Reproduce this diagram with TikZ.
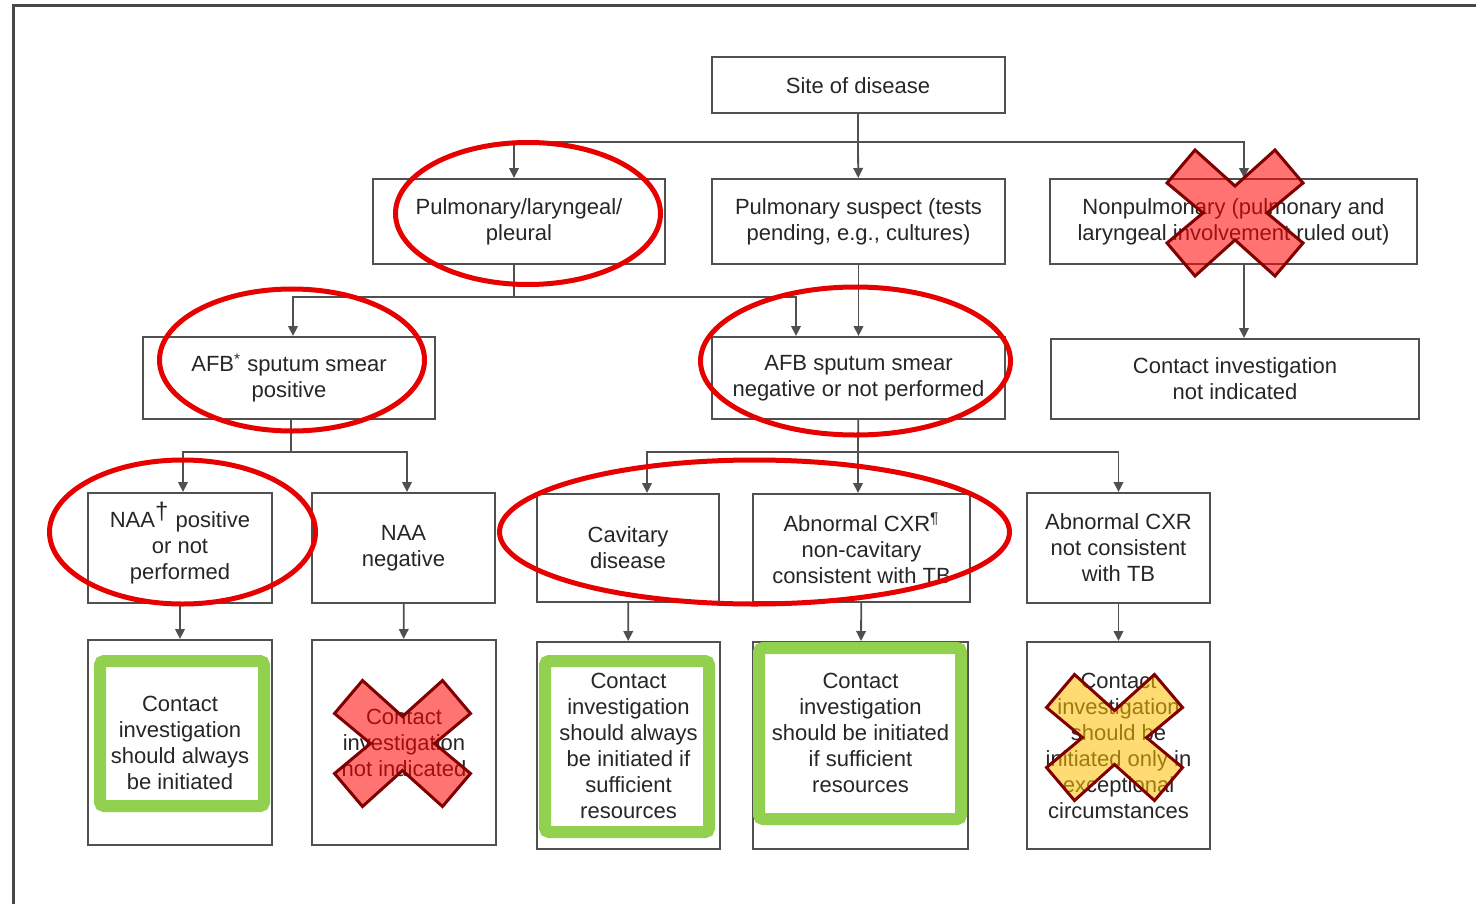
\documentclass[tikz,border=0pt]{standalone}
\usepackage{fontspec}
\setmainfont{Liberation Sans}
\usetikzlibrary{arrows.meta}

\definecolor{boxgray}{HTML}{505050}
\definecolor{txtgray}{HTML}{262626}
\definecolor{ringred}{HTML}{E60000}
\definecolor{okgreen}{HTML}{92D050}
\definecolor{xedge}{HTML}{800000}
\definecolor{xred}{HTML}{FF0000}
\definecolor{xyellow}{HTML}{FFC000}

\tikzset{
  flowbox/.style={draw=boxgray,line width=1pt,inner sep=0pt,align=center,
    text=txtgray,font=\fontsize{11pt}{13pt}\selectfont},
  flow/.style={draw=boxgray,line width=0.9pt},
  flowarr/.style={flow,-{Triangle[length=5pt,width=4.8pt]}},
  ring/.style={draw=ringred,line width=2.5pt},
  okframe/.style={draw=okgreen,line width=6pt,rounded corners=2pt},
  xline/.style={draw=xedge,line width=1.5pt,line join=miter,fill opacity=0.55}
}

% big cross: centre x, centre y, fill colour
\newcommand{\bigcross}[3]{%
  \draw[xline,fill=#3,shift={(#1,#2)}] (-40,-63) -- (0,-27) -- (40,-63) -- (68,-30)
    -- (32,0) -- (68,30) -- (40,63) -- (0,27) -- (-40,63) -- (-68,30) -- (-32,0)
    -- (-68,-30) -- cycle;}

\begin{document}
\begin{tikzpicture}[x=0.5pt,y=-0.5pt]
\useasboundingbox (0,0) rectangle (1476,904);
\draw[draw=boxgray!90!black,line width=1.5pt] (13,904) -- (13,6) -- (1476,6);

% boxes
\node[flowbox,minimum width=146.5pt,minimum height=28pt] (site) at (858,85.5) {Site of disease};
\node[flowbox,minimum width=146pt,minimum height=42.5pt] (pul) at (519,221.5) {Pulmonary/laryngeal/\\pleural};
\node[flowbox,minimum width=146.5pt,minimum height=42.5pt] (susp) at (858.5,221.5) {Pulmonary suspect (tests\\pending, e.g., cultures)};
\node[flowbox,minimum width=183.5pt,minimum height=42.5pt] (nonpul) at (1233.5,221.5) {Nonpulmonary (pulmonary and\\laryngeal involvement ruled out)};
\node[flowbox,minimum width=146pt,minimum height=41pt] (afbpos) at (289,378) {AFB\textsuperscript{*} sputum smear\\positive};
\node[flowbox,minimum width=146.5pt,minimum height=41pt] (afbneg) at (858.5,378) {AFB sputum smear\\negative or not performed};
\node[flowbox,minimum width=184pt,minimum height=40pt] (noci) at (1235,379) {Contact investigation\\not indicated};
\node[flowbox,minimum width=92pt,minimum height=55pt] (naapos) at (180,548) {NAA\textsuperscript{\smash{\large†}} positive\\or not\\performed};
\node[flowbox,minimum width=91.5pt,minimum height=55pt] (naaneg) at (403.5,548) {NAA\\negative};
\node[flowbox,minimum width=91pt,minimum height=54pt] (cav) at (628,548) {Cavitary\\disease};
\node[flowbox,minimum width=108.5pt,minimum height=54pt] (cxr) at (861.5,548) {Abnormal CXR\textsuperscript{¶}\\non-cavitary\\consistent with TB};
\node[flowbox,minimum width=91.5pt,minimum height=55pt] (cxrno) at (1118.5,548) {Abnormal CXR\\not consistent\\with TB};
\node[flowbox,minimum width=92pt,minimum height=102.5pt] (ci1) at (180,742.5) {Contact\\investigation\\should always\\be initiated};
\node[flowbox,minimum width=92pt,minimum height=102.5pt] (ci2) at (404,742.5) {Contact\\investigation\\not indicated};
\node[flowbox,minimum width=91.5pt,minimum height=103.5pt] (ci3) at (628.5,745.5) {Contact\\investigation\\should always\\be initiated if\\sufficient\\resources};
\node[flowbox,minimum width=107.5pt,minimum height=103.5pt] (ci4) at (860.5,745.5) {Contact\\investigation\\should be initiated\\if sufficient\\resources\\ \mbox{}};
\node[flowbox,minimum width=91.5pt,minimum height=103.5pt] (ci5) at (1118.5,745.5) {Contact\\investigation\\should be\\initiated only in\\exceptional\\circumstances};

% connectors
\coordinate (j1) at (858,142);
\coordinate (j2) at (514,297);
\coordinate (j3) at (291,452);
\coordinate (j4) at (858,452);
\draw[flow] (site) -- (j1);
\draw[flowarr] (j1) -| ([xshift=-2.5pt]pul.north);
\draw[flowarr] (j1) -- (susp);
\draw[flowarr] (j1) -| ([xshift=5.25pt]nonpul.north);
\draw[flow] ([xshift=-2.5pt]pul.south) -- (j2);
\draw[flowarr] (j2) -| ([xshift=2pt]afbpos.north);
\draw[flowarr] (j2) -| ([xshift=-31.25pt]afbneg.north);
\draw[flowarr] (susp) -- (afbneg);
\draw[flowarr] ([xshift=5.25pt]nonpul.south) -- ([xshift=5.25pt]nonpul.south |- noci.north);
\draw[flow] (afbpos.south -| j3) -- (j3);
\draw[flowarr] (j3) -| ([xshift=1.5pt]naapos.north);
\draw[flowarr] (j3) -| ([xshift=1.75pt]naaneg.north);
\draw[flow] (afbneg) -- (j4);
\draw[flowarr] (j4) -| ([xshift=9.5pt]cav.north);
\draw[flowarr] (j4) -- (j4 |- cxr.north);
\draw[flowarr] (j4) -| (cxrno);
\foreach \a/\b in {naapos/ci1,naaneg/ci2,cav/ci3,cxr/ci4,cxrno/ci5}
  \draw[flowarr] (\a) -- (\b);

% markings
\draw[ring] (528,213.5) ellipse [x radius=132.5,y radius=71];
\draw[ring] (292,360) ellipse [x radius=132.5,y radius=71];
\draw[ring] (855.5,361) ellipse [x radius=155,y radius=74];
\draw[ring] (182.5,532) ellipse [x radius=133,y radius=72];
\draw[ring] (754.5,532) ellipse [x radius=255,y radius=72];
\draw[okframe] (100,661) rectangle (264,806);
\draw[okframe] (545,661) rectangle (709,832);
\draw[okframe] (759,648) rectangle (961,819);
\bigcross{1235}{213}{xred}
\bigcross{402.5}{743.5}{xred}
\bigcross{1114.5}{737.5}{xyellow}
\end{tikzpicture}
\end{document}
